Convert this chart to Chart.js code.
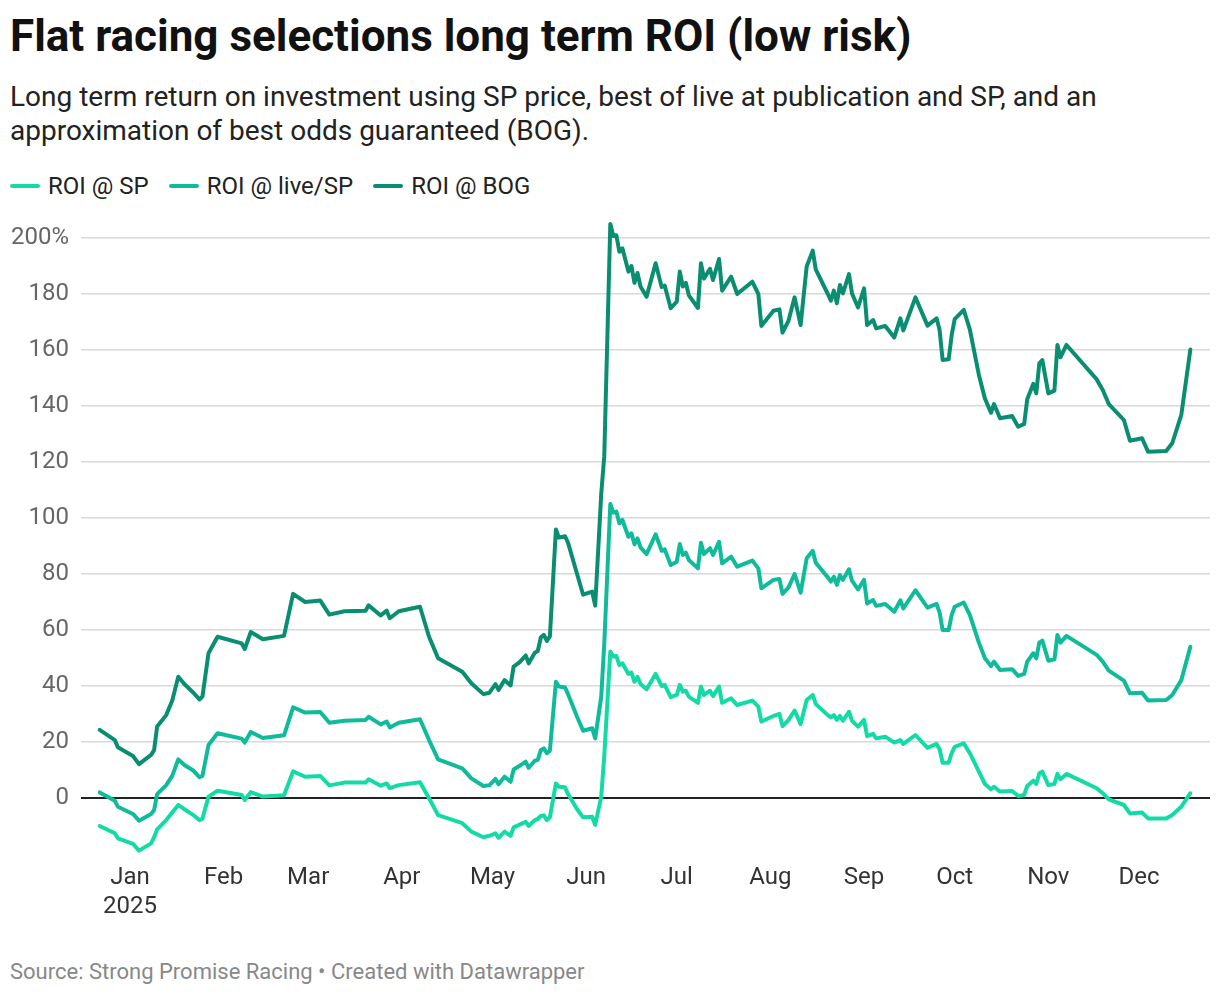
<!DOCTYPE html>
<html>
<head>
<meta charset="utf-8">
<script src="https://cdn.jsdelivr.net/npm/chart.js@4.4.0/dist/chart.umd.min.js"></script>
<style>
  html, body { margin: 0; padding: 0; background: #fff; }
  body { width: 1220px; height: 996px; position: relative; font-family: Roboto, "Noto Sans", sans-serif; overflow: hidden; }
  #title { position: absolute; left: 10px; top: 11px; font-size: 44px; line-height: 50px; font-weight: 700; color: #111; white-space: nowrap; }
  #subtitle { position: absolute; left: 10px; top: 80px; width: 1150px; font-size: 28px; line-height: 34px; color: #222; }
  #legend { position: absolute; left: 10px; top: 172px; height: 28px; display: flex; align-items: center; font-size: 24px; color: #222; }
  #legend .item { display: flex; align-items: center; margin-right: 20px; }
  #legend .swatch { width: 30px; height: 4px; border-radius: 2px; margin-right: 8px; }
  #wrap { position: absolute; left: 0; top: 200px; width: 1220px; height: 740px; }
  #footer { position: absolute; left: 10px; top: 958px; font-size: 22px; line-height: 28px; color: #888; }
</style>
</head>
<body>
<div id="title">Flat racing selections long term ROI (low risk)</div>
<div id="subtitle">Long term return on investment using SP price, best of live at publication and SP, and an approximation of best odds guaranteed (BOG).</div>
<div id="legend"></div>
<div id="wrap"><canvas id="chart"></canvas></div>
<div id="footer">Source: Strong Promise Racing • Created with Datawrapper</div>
<script>
// dates (roughly one point per change in the line)
var dates = [
  "2024-12-22","2024-12-27","2024-12-28","2025-01-02","2025-01-04","2025-01-08","2025-01-09","2025-01-10","2025-01-13","2025-01-15",
  "2025-01-17","2025-01-19","2025-01-22","2025-01-24","2025-01-25","2025-01-27","2025-01-30","2025-02-07","2025-02-08","2025-02-10",
  "2025-02-14","2025-02-21","2025-02-24","2025-02-28","2025-03-05","2025-03-08","2025-03-13","2025-03-20","2025-03-21","2025-03-25",
  "2025-03-27","2025-03-28","2025-03-31","2025-04-07","2025-04-10","2025-04-13","2025-04-21","2025-04-24","2025-04-28","2025-04-30",
  "2025-05-02","2025-05-03","2025-05-05","2025-05-07","2025-05-08","2025-05-10","2025-05-12","2025-05-13","2025-05-15","2025-05-16",
  "2025-05-17","2025-05-18","2025-05-19","2025-05-20","2025-05-22","2025-05-23","2025-05-25","2025-05-26","2025-05-29","2025-05-31",
  "2025-06-03","2025-06-04","2025-06-06","2025-06-07","2025-06-09","2025-06-10","2025-06-11","2025-06-12","2025-06-13","2025-06-15",
  "2025-06-16","2025-06-17","2025-06-18","2025-06-19","2025-06-21","2025-06-24","2025-06-26","2025-06-27","2025-06-29","2025-07-01",
  "2025-07-02","2025-07-03","2025-07-04","2025-07-05","2025-07-08","2025-07-09","2025-07-10","2025-07-12","2025-07-13","2025-07-15",
  "2025-07-16","2025-07-19","2025-07-21","2025-07-26","2025-07-28","2025-07-29","2025-08-02","2025-08-04","2025-08-05","2025-08-07",
  "2025-08-09","2025-08-11","2025-08-13","2025-08-15","2025-08-16","2025-08-20","2025-08-21","2025-08-22","2025-08-23","2025-08-24",
  "2025-08-25","2025-08-27","2025-08-28","2025-08-30","2025-09-01","2025-09-02","2025-09-04","2025-09-05","2025-09-08","2025-09-11",
  "2025-09-13","2025-09-14","2025-09-18","2025-09-22","2025-09-25","2025-09-26","2025-09-27","2025-09-29","2025-09-30","2025-10-01",
  "2025-10-04","2025-10-06","2025-10-09","2025-10-11","2025-10-13","2025-10-14","2025-10-16","2025-10-20","2025-10-22","2025-10-24",
  "2025-10-25","2025-10-27","2025-10-28","2025-10-29","2025-10-30","2025-11-01","2025-11-03","2025-11-04","2025-11-05","2025-11-07",
  "2025-11-17","2025-11-19","2025-11-21","2025-11-26","2025-11-28","2025-12-02","2025-12-04","2025-12-10","2025-12-12","2025-12-15",
  "2025-12-18"
];

var roiSP = [
  -10, -12.6, -14.4, -16.4, -18.8, -16.2, -14, -11.2, -7.9, -5.2,
  -2.5, -4, -6.1, -7.9, -7.4, 0.5, 2.6, 1.1, -0.7, 2.1,
  0.5, 1, 9.5, 7.6, 7.9, 4.5, 5.5, 5.5, 6.7, 4.4,
  5.2, 3.5, 4.6, 5.6, -0.1, -6.1, -9, -12, -14, -13.5,
  -12.6, -14.2, -12, -13.5, -10.5, -9.5, -8.5, -10, -7.9, -7.5,
  -6.4, -6.2, -7.9, -6.9, 5.2, 4, 3.8, 1.4, -4, -6.9,
  -6.7, -9.6, 0.5, 15, 52.3, 50.5, 50.7, 47.5, 48.1, 44.3,
  44.8, 41.5, 43.3, 40.7, 38.8, 44.3, 40, 40.4, 36, 36.8,
  40.4, 38, 38.3, 36.2, 34, 39.8, 36.8, 38.3, 36.4, 39.8,
  34, 35.6, 33.2, 34.8, 32.6, 27.3, 29.3, 30, 25.7, 27.9,
  31.2, 26.4, 35, 36.8, 33.6, 29.6, 28.8, 29.6, 27.9, 29.3,
  27.6, 30.8, 27.6, 25.5, 27.9, 22.1, 22.9, 21.3, 21.9, 19.8,
  20.7, 19.3, 22.5, 17.9, 19.3, 17.4, 12.6, 12.6, 16, 18.3,
  19.5, 16, 9.4, 5, 3.1, 4, 2.3, 2.5, 0.7, 1.1,
  4.3, 6.2, 5, 8.8, 9.4, 4.6, 5, 8.6, 6.7, 8.6,
  3.5, 1.7, -0.5, -2.5, -5.5, -5.2, -7.3, -7.3, -6.1, -3.1,
  1.7
];

var roiLive = [
  2.0, -1.0, -3.1, -5.7, -8.1, -5.7, -4.3, 1.4, 4.6, 7.9,
  13.8, 11.8, 9.8, 7.4, 7.9, 18.9, 23.1, 21.2, 19.8, 23.6,
  21.4, 22.4, 32.4, 30.5, 30.7, 26.9, 27.6, 27.9, 29.0, 26.3,
  27.3, 25.2, 26.9, 28.1, 20.7, 13.8, 10.6, 7.0, 4.3, 4.6,
  6.8, 4.9, 7.6, 5.8, 10.2, 11.5, 13.0, 10.8, 13.3, 13.6,
  17.1, 17.7, 16.0, 16.9, 41.5, 39.8, 39.5, 37.1, 29.0, 24.0,
  24.9, 21.3, 36.2, 55.0, 105, 101.9, 102.3, 98.1, 99.3, 93.3,
  94.5, 90.6, 92.7, 89.5, 87.1, 94.2, 88.3, 88.8, 83.2, 84.4,
  90.7, 86.8, 87.6, 85.0, 82.0, 91.2, 87.1, 89.2, 86.8, 91.5,
  83.8, 86.2, 82.6, 84.8, 82.0, 74.9, 77.9, 78.2, 72.9, 75.2,
  80.0, 73.3, 85.6, 88.3, 84.0, 78.8, 77.3, 79.0, 76.1, 79.6,
  77.9, 81.7, 77.6, 74.5, 77.9, 69.5, 70.7, 68.6, 69.3, 66.5,
  70.6, 67.7, 74.2, 68.0, 69.3, 66.2, 60.0, 60.0, 65.4, 68.3,
  69.8, 65.4, 55.5, 49.9, 47.1, 48.7, 45.7, 46.0, 43.6, 44.3,
  48.7, 51.7, 49.9, 55.5, 56.2, 49.0, 49.5, 58.2, 55.5, 57.9,
  51.1, 48.7, 45.5, 41.9, 37.4, 37.6, 34.8, 35.0, 36.8, 42.1,
  54.0
];

var roiBOG = [
  24.3, 20.7, 18.1, 15.0, 12.1, 15.4, 17.1, 25.5, 29.6, 34.8,
  43.3, 40.7, 37.6, 35.2, 36.2, 51.7, 57.6, 55.2, 53.2, 59.3,
  56.7, 57.9, 72.9, 70.0, 70.5, 65.5, 66.7, 66.9, 68.8, 65.2,
  66.9, 64.2, 66.7, 68.3, 57.6, 49.9, 45.1, 41.0, 37.1, 37.6,
  40.7, 38.6, 42.1, 40.2, 46.9, 48.5, 50.9, 48.1, 51.9, 52.5,
  57.3, 58.3, 56.1, 57.7, 95.9, 93.0, 93.5, 91.2, 80.0, 72.6,
  73.7, 68.7, 108.7, 122.0, 205, 200.7, 201.0, 195.1, 196.3, 188.0,
  190.0, 184.0, 187.5, 182.7, 179.0, 191.0, 182.5, 183.0, 174.9, 177.3,
  188.0, 182.7, 184.0, 179.5, 175.0, 191.0, 185.5, 189.0, 185.0, 192.5,
  181.2, 186.2, 180.0, 184.4, 180.0, 168.6, 174.0, 174.5, 166.2, 170.5,
  178.8, 168.9, 189.8, 195.5, 188.8, 180.0, 177.6, 181.2, 176.7, 183.2,
  180.2, 187.1, 180.2, 175.2, 182.0, 168.9, 170.7, 167.7, 168.6, 164.5,
  171.3, 167.0, 178.8, 168.7, 171.3, 167.1, 156.4, 156.7, 165.4, 171.0,
  174.3, 167.4, 151.1, 142.7, 137.6, 140.7, 135.6, 136.4, 132.6, 133.6,
  142.4, 147.9, 144.5, 155.2, 156.4, 144.5, 145.5, 161.8, 157.4, 161.8,
  149.5, 145.7, 140.7, 135.0, 127.6, 128.5, 123.7, 123.9, 126.7, 136.8,
  160.2
];

var monthStarts = ["2025-01-01","2025-02-01","2025-03-01","2025-04-01","2025-05-01","2025-06-01",
                   "2025-07-01","2025-08-01","2025-09-01","2025-10-01","2025-11-01","2025-12-01"];
var monthLabels = ["Jan","Feb","Mar","Apr","May","Jun","Jul","Aug","Sep","Oct","Nov","Dec"];
var yTicks = [0, 20, 40, 60, 80, 100, 120, 140, 160, 180, 200];

var seriesNames = ["ROI @ SP", "ROI @ live/SP", "ROI @ BOG"];
var seriesColors = ["#14dba6", "#0fbb9a", "#0a8e72"];

// days since 1 Jan 2025 (no date adapter, so the x axis is linear in days)
function dayOf(s) {
  var p = s.split("-");
  return (Date.UTC(+p[0], +p[1] - 1, +p[2]) - Date.UTC(2025, 0, 1)) / 86400000;
}
var xDays = dates.map(dayOf);
var tickDays = monthStarts.map(dayOf);

function pts(vals) {
  return vals.map(function (v, i) { return { x: xDays[i], y: v }; });
}

var legend = document.getElementById("legend");
seriesNames.forEach(function (n, i) {
  var it = document.createElement("div");
  it.className = "item";
  it.innerHTML = '<span class="swatch" style="background:' + seriesColors[i] + '"></span><span>' + n + '</span>';
  legend.appendChild(it);
});

var allSeries = [roiSP, roiLive, roiBOG];
var datasets = allSeries.map(function (vals, i) {
  return {
    label: seriesNames[i],
    data: pts(vals),
    borderColor: seriesColors[i],
    borderWidth: 4,
    pointRadius: 0,
    tension: 0,
    borderJoinStyle: "round",
    borderCapStyle: "round",
    fill: false
  };
});
// darkest line on top
datasets.reverse();

var ctx = document.getElementById("chart").getContext("2d");
var myChart = new Chart(ctx, {
  type: "line",
  data: { datasets: datasets },
  options: {
    responsive: true,
    maintainAspectRatio: false,
    animation: false,
    layout: { padding: { top: 21.2, right: 10, left: 0, bottom: 0 } },
    plugins: { legend: { display: false }, tooltip: { enabled: false } },
    scales: {
      x: {
        type: "linear",
        min: -16.2,
        max: 357.5,
        grid: { display: false, drawTicks: false },
        border: { display: false },
        afterBuildTicks: function (scale) {
          scale.ticks = tickDays.map(function (d) { return { value: d }; });
        },
        afterFit: function (scale) { scale.height = 86; },
        ticks: {
          autoSkip: false,
          maxRotation: 0,
          padding: 10,
          color: "#333",
          font: { family: "Roboto", size: 24, lineHeight: 1.2 },
          callback: function (v, i) {
            return i === 0 ? [monthLabels[0], "2025"] : monthLabels[i];
          }
        }
      },
      y: {
        min: -20,
        max: 206,
        border: { display: false },
        grid: {
          drawTicks: false,
          color: function (c) { return c.tick && c.tick.value === 0 ? "#222" : "#d9d9d9"; },
          lineWidth: function (c) { return c.tick && c.tick.value === 0 ? 2 : 1.5; }
        },
        afterBuildTicks: function (scale) {
          scale.ticks = yTicks.map(function (v) { return { value: v }; });
        },
        afterFit: function (scale) {
          scale.width = 81;
          scale.paddingTop = 0;
          scale.paddingBottom = 0;
        },
        ticks: {
          padding: 12,
          color: "#666",
          font: { family: "Roboto", size: 24 },
          callback: function (v) { return v === 200 ? "200%" : String(v); }
        }
      }
    }
  }
});
</script>
</body>
</html>
